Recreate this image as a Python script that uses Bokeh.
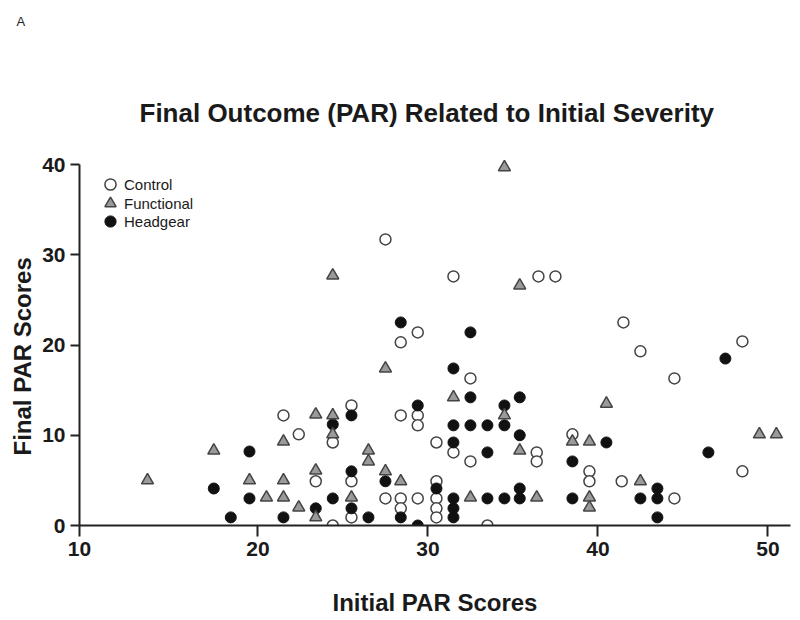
from bokeh.plotting import figure
from bokeh.models import Range1d, FixedTicker, Legend, LegendItem, Title
from bokeh.embed import file_html
from bokeh.resources import INLINE

# ---- data ----
control_x = [27.5, 31.5, 36.5, 37.5, 29.4, 28.4, 32.5, 41.5, 42.5, 44.5, 48.5, 38.5, 39.5, 39.5,
             41.4, 44.5, 48.5, 25.5, 24.4, 28.4, 29.4, 29.4, 30.5, 31.5, 32.5, 36.4, 36.4, 25.5,
             25.5, 27.5, 28.4, 28.4, 29.4, 30.5, 30.5, 30.5, 30.5, 24.4, 33.5, 21.5, 22.4, 23.4]
control_y = [31.7, 27.6, 27.6, 27.6, 21.4, 20.3, 16.3, 22.5, 19.3, 16.3, 20.4, 10.1, 6.0, 4.9,
             4.9, 3.0, 6.0, 13.3, 9.2, 12.2, 12.2, 11.1, 9.2, 8.1, 7.1, 8.1, 7.1, 4.9,
             0.9, 3.0, 3.0, 1.9, 3.0, 4.9, 3.0, 1.9, 0.9, 0.0, 0.0, 12.2, 10.1, 4.9]

functional_x = [34.5, 24.4, 35.4, 27.5, 40.5, 38.5, 39.5, 42.5, 39.5, 39.5, 49.5, 50.5, 31.5,
                34.5, 24.4, 24.4, 26.5, 26.5, 27.5, 28.4, 25.5, 32.5, 35.4, 36.4, 13.5, 17.4,
                19.5, 21.5, 21.5, 23.4, 20.5, 21.5, 22.4, 23.4, 23.4]
functional_y = [39.7, 27.7, 26.6, 17.4, 13.5, 9.3, 9.3, 4.9, 3.1, 2.0, 10.1, 10.1, 14.2,
                12.2, 12.2, 10.1, 8.3, 7.1, 6.0, 4.9, 3.1, 3.1, 8.3, 3.1, 5.0, 8.3,
                5.0, 5.0, 9.3, 12.3, 3.1, 3.1, 2.0, 6.1, 0.9]

headgear_x = [19.5, 17.4, 19.5, 18.4, 21.5, 23.4, 24.4, 24.4, 25.5, 29.4, 32.5, 35.4, 34.5,
              31.5, 32.5, 33.5, 34.5, 35.4, 31.5, 33.5, 25.5, 27.5, 30.5, 25.5, 31.5, 31.5,
              31.5, 33.5, 34.5, 35.4, 35.4, 26.5, 28.4, 29.4, 28.4, 32.5, 31.5, 47.5, 40.5,
              38.5, 38.5, 42.5, 43.5, 43.5, 43.5, 46.5]
headgear_y = [8.2, 4.1, 3.0, 0.9, 0.9, 1.9, 11.2, 3.0, 12.2, 13.3, 14.2, 14.2, 13.3,
              11.1, 11.1, 11.1, 11.1, 10.0, 9.2, 8.1, 6.0, 4.9, 4.1, 1.9, 3.0, 1.9,
              0.9, 3.0, 3.0, 3.0, 4.1, 0.9, 0.9, 0.0, 22.5, 21.4, 17.4, 18.5, 9.2,
              7.1, 3.0, 3.0, 4.1, 3.0, 0.9, 8.1]

x_ticks = [9.5, 20, 30, 40, 50]
x_tick_labels = ["10", "20", "30", "40", "50"]
y_ticks = [0, 10, 20, 30, 40]

series_names = ["Control", "Functional", "Headgear"]

FONT = "Liberation Sans"

p = figure(width=796, height=611, output_backend="svg", toolbar_location=None,
           x_range=Range1d(9.5, 51.33), y_range=Range1d(0, 41),
           frame_width=711, frame_height=370,
           min_border_left=79, min_border_right=6, min_border_top=154, min_border_bottom=87)
p.title = None

p.outline_line_color = None
p.grid.visible = False
p.background_fill_color = "white"
p.border_fill_color = "white"

# panels above the frame, stacked outward: main title, spacer, panel letter
main_title = Title(text="Final Outcome (PAR) Related to Initial Severity", align="left",
                   offset=60, standoff=55, text_font=FONT, text_font_style="bold",
                   text_font_size="26px", text_color="#1a1a1a")
p.add_layout(main_title, "above")
spacer = Title(text=" ", align="left", offset=0, standoff=11, text_font=FONT,
               text_font_size="13px")
p.add_layout(spacer, "above")
panel_title = Title(text="A", align="left", offset=-63, standoff=23, text_font=FONT,
                    text_font_style="normal", text_font_size="13px", text_color="#222222")
p.add_layout(panel_title, "above")

for ax in (p.xaxis[0], p.yaxis[0]):
    ax.axis_line_width = 2
    ax.axis_line_color = "#222222"
    ax.major_tick_line_width = 2
    ax.major_tick_line_color = "#222222"
    ax.major_tick_in = 0
    ax.minor_tick_line_color = None
    ax.major_label_text_font = FONT
    ax.major_label_text_font_style = "bold"
    ax.major_label_text_font_size = "21px"
    ax.major_label_text_color = "#1a1a1a"
    ax.axis_label_text_font = FONT
    ax.axis_label_text_font_style = "bold"
    ax.axis_label_text_font_size = "24px"
    ax.axis_label_text_color = "#1a1a1a"

p.xaxis.ticker = FixedTicker(ticks=x_ticks)
p.xaxis.major_label_overrides = {t: lab for t, lab in zip(x_ticks, x_tick_labels)}
p.xaxis.major_tick_out = 11
p.xaxis.major_label_standoff = 5
p.xaxis.axis_label = "Initial PAR Scores"
p.xaxis.axis_label_standoff = 30

p.yaxis.ticker = FixedTicker(ticks=y_ticks)
p.yaxis.bounds = (0, 40)
p.yaxis.major_tick_out = 9
p.yaxis.major_label_standoff = 5

y_title = Title(text="Final PAR Scores", align="left", offset=70, standoff=8, text_font=FONT,
                text_font_style="bold", text_font_size="24px", text_color="#1a1a1a")
p.add_layout(y_title, "left")

r_c = p.scatter(control_x, control_y, marker="circle", size=11,
                fill_color="white", line_color="#444444", line_width=1.5)
r_h = p.scatter(headgear_x, headgear_y, marker="circle", size=11,
                fill_color="#111111", line_color="#111111", line_width=1)
r_f = p.scatter(functional_x, functional_y, marker="triangle", size=12,
                fill_color="#9a9a9a", line_color="#444444", line_width=1.5)

# one legend box per entry so the rows can sit closer than the glyph boxes
legend_rows = [(series_names[0], r_c, 322), (series_names[1], r_f, 303), (series_names[2], r_h, 285)]
for name, rend, ybot in legend_rows:
    lg = Legend(items=[LegendItem(label=name, renderers=[rend])],
                location=(12, ybot), margin=0, padding=5, spacing=0,
                glyph_width=28, glyph_height=28, label_height=28, label_standoff=-8,
                label_text_font=FONT, label_text_font_size="15px", label_text_color="#1a1a1a",
                border_line_alpha=0, background_fill_alpha=0)
    p.add_layout(lg)

open("out.html", "w").write(file_html(p, INLINE))
